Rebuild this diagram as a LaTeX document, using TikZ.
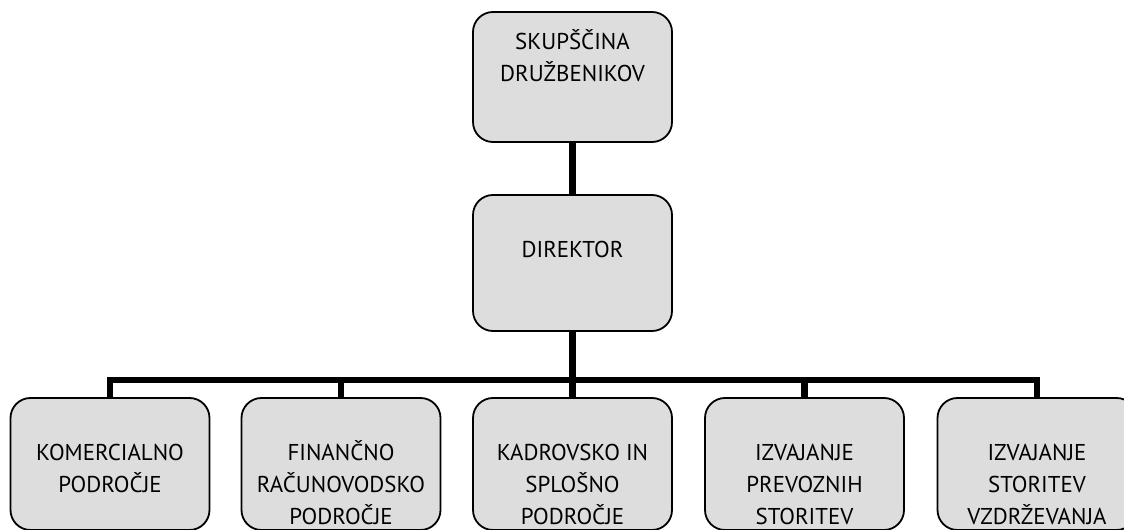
\documentclass[tikz,border=0pt]{standalone}
\usepackage{fontspec}
\setmainfont{PT Sans}
\usetikzlibrary{positioning}
\definecolor{boxgray}{HTML}{DDDDDD}

\begin{document}
\begin{tikzpicture}[x=1bp, y=-1bp,
  unit/.style={draw=black, line width=1.8bp, fill=boxgray, rounded corners=20bp, minimum width=199bp, inner sep=0pt},
  lbl/.style={align=center, inner sep=0pt, anchor=base, font=\fontsize{23}{32}\selectfont},
  link/.style={line width=6.5bp}]
\useasboundingbox (0,0) rectangle (1124,530);
\clip (0,0) rectangle (1124,530);
\node[unit, minimum height=130bp] (skup) at (572.5,77) {};
\node[unit, minimum height=136bp] (dir) at (572.5,263) {};
\node[unit, minimum height=132bp] (k1) at (110,464) {};
\node[unit, minimum height=132bp] (k2) at (341,464) {};
\node[unit, minimum height=132bp] (k3) at (572.5,464) {};
\node[unit, minimum height=132bp] (k4) at (804.5,464) {};
\node[unit, minimum height=132bp] (k5) at (1037,464) {};
\coordinate (bus) at (572.5,380);
% texts (base = last line)
\node[lbl] (skupT) at ([yshift=-70bp]skup.north) {SKUPŠČINA\\DRUŽBENIKOV};
\node[lbl] (dirT) at ([yshift=-63bp]dir.north) {DIREKTOR};
\node[lbl] (k1T) at ([yshift=-95bp]k1.north) {KOMERCIALNO\\PODROČJE};
\node[lbl] (k2T) at ([yshift=-127bp]k2.north) {FINANČNO\\RAČUNOVODSKO\\PODROČJE};
\node[lbl] (k3T) at ([yshift=-127bp]k3.north) {KADROVSKO IN\\SPLOŠNO\\PODROČJE};
\node[lbl] (k4T) at ([yshift=-127bp]k4.north) {IZVAJANJE\\PREVOZNIH\\STORITEV};
\node[lbl] (k5T) at ([yshift=-127bp]k5.north) {IZVAJANJE\\STORITEV\\VZDRŽEVANJA};
% connectors
\draw[link] (skup) -- (dir);
\draw[link] (dir) -- (bus);
\draw[link] (k1.north) -- (k1.north |- bus) -- (k5.north |- bus) -- (k5.north);
\foreach \k in {k2,k3,k4}
  \draw[link] (\k.north) -- (\k.north |- bus);
\end{tikzpicture}
\end{document}
